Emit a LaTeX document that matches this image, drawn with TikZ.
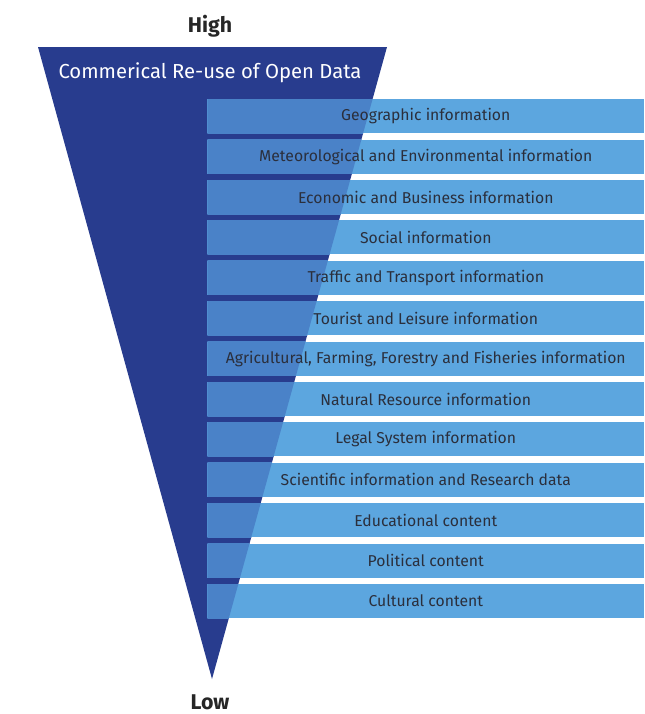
\documentclass[tikz,border=0pt]{standalone}
\usepackage{fontspec}
\setmainfont{Fira Sans}
\definecolor{funnel}{HTML}{283C8E}
\definecolor{barfill}{HTML}{5CA6DF}
\definecolor{barover}{HTML}{4A82C8}
\definecolor{labeltext}{HTML}{2B2F3C}
\begin{document}
\begin{tikzpicture}[x=0.75pt,y=-0.75pt,
  category/.style={fill=barfill, anchor=north west, inner sep=0pt,
    minimum width=327.75pt, minimum height=25.5pt,
    font=\fontsize{11.8}{14}\selectfont, text=labeltext,
    path picture={\fill[barover] (tl) -- (tr) -- (apex) -- cycle;}},
  endlabel/.style={font=\fontsize{16}{18}\selectfont\bfseries, text=black!85}]
\useasboundingbox (0,0) rectangle (644,714);

% funnel corners
\coordinate (tl) at (38,47);
\coordinate (tr) at (387,47);
\coordinate (apex) at (212,679);
\fill[funnel] (tl) -- (tr) -- (apex) -- cycle;

\node[font=\fontsize{15.2}{18}\selectfont, text=white] (title) at (210,73) {Commerical Re-use of Open Data};
\node[endlabel] (high) at (210,26) {High};
\node[endlabel] (low) at (210,702) {Low};

% category bars
\foreach \txt [count=\i from 0] in {
  Geographic information,
  Meteorological and Environmental information,
  Economic and Business information,
  Social information,
  Traffic and Transport information,
  Tourist and Leisure information,
  {Agricultural, Farming, Forestry and Fisheries information},
  Natural Resource information,
  Legal System information,
  Scientific information and Research data,
  Educational content,
  Political content,
  Cultural content}{
  \node[category] (bar\i) at (207,99+40.4*\i) {\txt};
}
\end{tikzpicture}
\end{document}
